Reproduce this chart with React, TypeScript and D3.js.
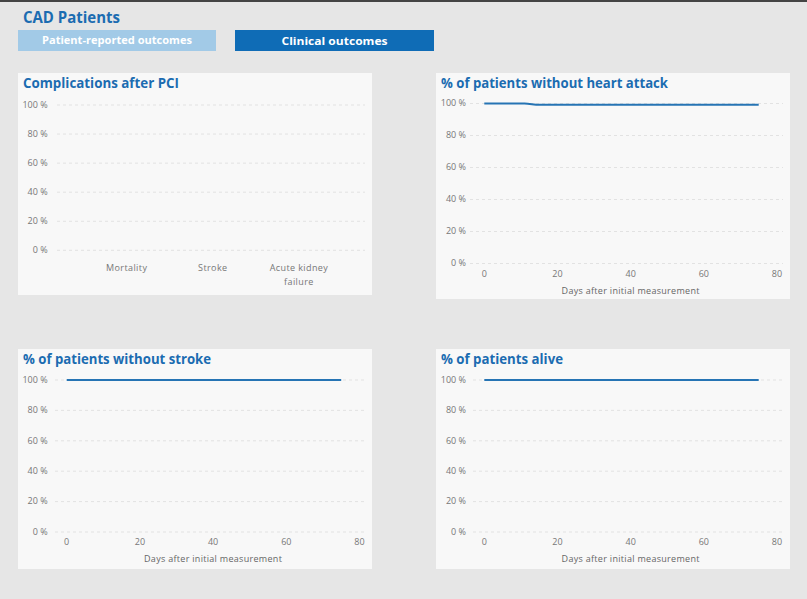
import React from 'react';
import * as d3 from 'd3';

// ---- data ----
const yTicks = [0, 20, 40, 60, 80, 100];
const xTicks = [0, 20, 40, 60, 80];
const complicationCategories = ['Mortality', 'Stroke', 'Acute kidney failure'];
const complicationValues = [0, 0, 0];
const heartAttackDays = [0, 11, 15, 75];
const heartAttackPct = [100, 100, 99.2, 99.2];
const strokeDays = [0, 75];
const strokePct = [100, 100];
const aliveDays = [0, 75];
const alivePct = [100, 100];

const FONT = '"Segoe UI", "Open Sans", sans-serif';
const BG = '#e6e6e6';
const PANEL = '#f8f8f8';
const TITLE = '#1b6cb1';
const LINE = '#2674b4';
const TICK = '#777';
const GRID = '#e2e2e2';

function wrap(label: string): string[] {
  if (label.length <= 10) return [label];
  const i = label.lastIndexOf(' ');
  return [label.slice(0, i), label.slice(i + 1)];
}

function YGrid({ y, labelRight, gx0, gx1 }: any) {
  return (
    <g>
      {yTicks.map((t) => (
        <g key={t}>
          <line x1={gx0} x2={gx1} y1={y(t)} y2={y(t)} stroke={GRID} strokeWidth={1} strokeDasharray="3,3" />
          <text x={labelRight} y={y(t)} dy="0.32em" textAnchor="end" fontSize={9} fill={TICK} fontFamily={FONT}>
            {`${t} %`}
          </text>
        </g>
      ))}
    </g>
  );
}

function Panel({ x, y, w, h, title, titleLen }: any) {
  return (
    <g>
      <rect x={x} y={y} width={w} height={h} fill={PANEL} />
      <text x={x + 5} y={y + 15} fontSize={14} fontWeight={700} fill={TITLE} fontFamily={FONT}
        textLength={titleLen} lengthAdjust="spacingAndGlyphs">{title}</text>
    </g>
  );
}

function BarPanel() {
  const y = d3.scaleLinear().domain([0, 100]).range([250.3, 105]);
  const x = d3.scaleBand<string>().domain(complicationCategories).range([83.6, 342]).paddingInner(0.3).paddingOuter(0.15);
  return (
    <g>
      <Panel x={18} y={73} w={354} h={222} title="Complications after PCI" titleLen={156} />
      <YGrid y={y} labelRight={47.7} gx0={57} gx1={365} />
      {complicationCategories.map((c, i) => (
        <rect key={c} x={x(c)} width={x.bandwidth()} y={y(complicationValues[i])}
          height={y(0) - y(complicationValues[i])} fill={LINE} />
      ))}
      {complicationCategories.map((c) => (
        <text key={c} x={(x(c) as number) + x.bandwidth() / 2} y={270.5} textAnchor="middle" fontSize={9}
          fill={TICK} fontFamily={FONT} letterSpacing={0.4}>
          {wrap(c).map((l, j) => (
            <tspan key={j} x={(x(c) as number) + x.bandwidth() / 2} dy={j === 0 ? 0 : 14}>{l}</tspan>
          ))}
        </text>
      ))}
    </g>
  );
}

function LinePanel({ px, py, pw, ph, title, titleLen, days, pct, labelRight, gx0, gx1, y100, y0, x0, x80, tickBase, axisBase }: any) {
  const y = d3.scaleLinear().domain([0, 100]).range([y0, y100]);
  const x = d3.scaleLinear().domain([0, 80]).range([x0, x80]);
  const pts = days.map((d: number, i: number) => [d, pct[i]] as [number, number]);
  const path = d3.line<[number, number]>().x((d) => x(d[0])).y((d) => y(d[1])).curve(d3.curveMonotoneX)(pts) || '';
  return (
    <g>
      <Panel x={px} y={py} w={pw} h={ph} title={title} titleLen={titleLen} />
      <YGrid y={y} labelRight={labelRight} gx0={gx0} gx1={gx1} />
      {xTicks.map((t) => (
        <text key={t} x={x(t)} y={tickBase} textAnchor="middle" fontSize={9} fill={TICK} fontFamily={FONT}>{t}</text>
      ))}
      <text x={(x0 + x80) / 2} y={axisBase} textAnchor="middle" fontSize={9} fill={'#666'} fontFamily={FONT}
        letterSpacing={0.3}>Days after initial measurement</text>
      <path d={path} fill="none" stroke={LINE} strokeWidth={2} />
    </g>
  );
}

export default function App() {
  return (
    <svg width={807} height={599} style={{ position: 'absolute', left: 0, top: 0 }}>
      <rect x={0} y={0} width={807} height={599} fill={BG} />
      <rect x={0} y={0} width={807} height={2} fill="#444" />
      <text x={23} y={23} fontSize={16} fontWeight={700} fill={TITLE} fontFamily={FONT}
        textLength={97} lengthAdjust="spacingAndGlyphs">CAD Patients</text>
      <rect x={18} y={30} width={198} height={21} fill="#a2cae7" />
      <text x={117} y={44} textAnchor="middle" fontSize={11} fontWeight={700} fill="#fff" fontFamily={FONT}
        textLength={150} lengthAdjust="spacingAndGlyphs">Patient-reported outcomes</text>
      <rect x={235} y={30} width={199} height={21} fill="#0f6cb6" />
      <text x={334.5} y={44.5} textAnchor="middle" fontSize={11} fontWeight={700} fill="#fff" fontFamily={FONT}
        textLength={106} lengthAdjust="spacingAndGlyphs">Clinical outcomes</text>

      <BarPanel />
      <LinePanel px={436} py={73} pw={354} ph={226} title="% of patients without heart attack" titleLen={227}
        days={heartAttackDays} pct={heartAttackPct} labelRight={466} gx0={470} gx1={783}
        y100={103.5} y0={263.5} x0={484.3} x80={777} tickBase={276.5} axisBase={293.5} />
      <LinePanel px={18} py={349} pw={354} ph={220} title="% of patients without stroke" titleLen={188}
        days={strokeDays} pct={strokePct} labelRight={47.7} gx0={55} gx1={367}
        y100={380} y0={532} x0={66.7} x80={359.5} tickBase={545} axisBase={561.5} />
      <LinePanel px={436} py={349} pw={354} ph={220} title="% of patients alive" titleLen={122}
        days={aliveDays} pct={alivePct} labelRight={466} gx0={473} gx1={785}
        y100={380} y0={532} x0={484.3} x80={777} tickBase={545} axisBase={561.5} />
    </svg>
  );
}
